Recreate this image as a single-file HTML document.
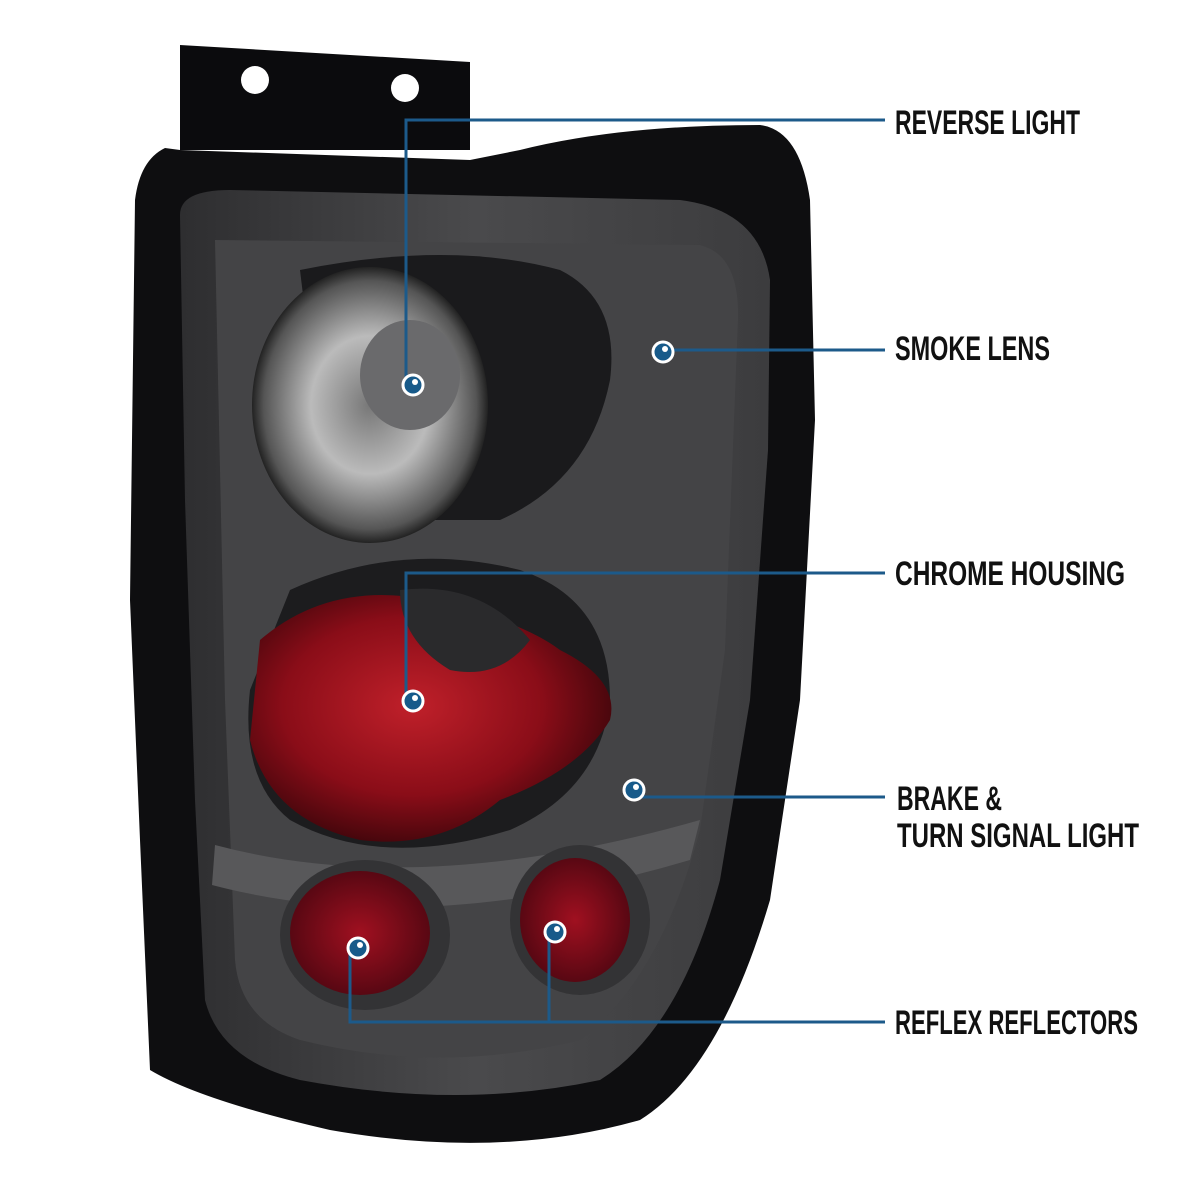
<!DOCTYPE html>
<html><head><meta charset="utf-8"><style>
html,body{margin:0;padding:0;background:#fff;width:1200px;height:1200px;overflow:hidden}
text{font-family:"Liberation Sans Narrow","Liberation Sans",sans-serif;font-size:34px;font-weight:bold;fill:#111}
</style></head><body>
<svg width="1200" height="1200" viewBox="0 0 1200 1200" xmlns="http://www.w3.org/2000/svg">
<defs>
<radialGradient id="rev" cx="0.5" cy="0.5" r="0.5"><stop offset="0" stop-color="#777"/><stop offset="0.5" stop-color="#bbb"/><stop offset="0.9" stop-color="#555"/><stop offset="1" stop-color="#222"/></radialGradient>
<radialGradient id="red" cx="0.45" cy="0.45" r="0.6"><stop offset="0" stop-color="#c0202a"/><stop offset="0.6" stop-color="#8a0d18"/><stop offset="1" stop-color="#3a050a"/></radialGradient>
<radialGradient id="red2" cx="0.5" cy="0.5" r="0.6"><stop offset="0" stop-color="#a01020"/><stop offset="1" stop-color="#4a0610"/></radialGradient>
<linearGradient id="body" x1="0" y1="0" x2="1" y2="0"><stop offset="0" stop-color="#2e2e30"/><stop offset="0.5" stop-color="#4a4a4c"/><stop offset="1" stop-color="#3c3c3e"/></linearGradient>
</defs>
<path d="M180 45 L470 62 L470 150 L180 150 Z" fill="#0b0b0d"/>
<circle cx="255" cy="80" r="14" fill="#fff"/><circle cx="405" cy="88" r="14" fill="#fff"/>
<path d="M165 148 Q140 160 135 200 L130 600 L140 840 L150 1070 Q200 1100 330 1130 Q500 1160 640 1120 Q720 1070 770 900 L800 700 L815 420 L810 200 Q800 130 760 125 Q620 125 520 150 L470 160 L180 150 Z" fill="#0e0e10"/>
<path d="M180 215 Q180 190 230 190 L680 200 Q760 210 770 280 L768 450 L750 700 L720 880 Q680 1030 600 1080 Q460 1110 300 1080 Q220 1060 205 1000 L195 800 L185 500 Z" fill="url(#body)"/>
<path d="M215 240 L700 245 Q740 255 738 320 L725 650 L700 830 Q660 980 580 1040 Q440 1075 300 1040 Q240 1020 235 960 L225 700 Z" fill="#444446"/>
<path d="M300 270 Q450 240 560 270 Q620 300 610 380 Q590 480 500 520 L330 520 Z" fill="#1a1a1c"/>
<ellipse cx="370" cy="405" rx="118" ry="138" fill="url(#rev)"/>
<ellipse cx="410" cy="375" rx="50" ry="55" fill="#6a6a6c"/>
<path d="M290 590 Q400 540 520 570 Q610 600 610 700 Q600 790 510 830 Q380 870 290 820 Q240 780 250 690 Z" fill="#1c1c1e"/>
<path d="M260 640 Q330 580 430 600 Q520 620 560 650 Q620 680 610 720 Q580 770 500 800 Q440 850 360 840 Q270 820 250 740 Z" fill="url(#red)"/>
<path d="M400 590 Q480 580 530 640 Q500 680 450 670 Q400 640 400 590 Z" fill="#2a2a2c"/>
<path d="M215 845 Q420 900 700 820 L690 860 Q420 940 212 885 Z" fill="#58585a"/>
<ellipse cx="365" cy="935" rx="85" ry="75" fill="#333335"/>
<ellipse cx="360" cy="933" rx="70" ry="62" fill="url(#red2)"/>
<ellipse cx="580" cy="920" rx="70" ry="75" fill="#333335"/>
<ellipse cx="575" cy="920" rx="55" ry="62" fill="url(#red2)"/>
<g stroke="#1c5a8a" stroke-width="3" fill="none">
<path d="M885 120 L406 120 L406 385"/>
<path d="M885 350 L663 350"/>
<path d="M885 573 L406 573 L406 700"/>
<path d="M885 797 L634 797"/>
<path d="M885 1022 L350 1022 L350 948 M549 1022 L549 932"/>
</g>
<g fill="#175a8a" stroke="#fff" stroke-width="3">
<circle cx="413" cy="385" r="10"/><circle cx="663" cy="352" r="10"/>
<circle cx="413" cy="701" r="10"/><circle cx="634" cy="790" r="10"/>
<circle cx="358" cy="948" r="10"/><circle cx="555" cy="932" r="10"/>
</g>
<g fill="#fff"><circle cx="415" cy="382" r="3"/><circle cx="665" cy="349" r="3"/><circle cx="415" cy="698" r="3"/><circle cx="636" cy="787" r="3"/><circle cx="360" cy="945" r="3"/><circle cx="557" cy="929" r="3"/></g>
<text x="895" y="134" textLength="185" lengthAdjust="spacingAndGlyphs">REVERSE LIGHT</text>
<text x="895" y="360" textLength="155" lengthAdjust="spacingAndGlyphs">SMOKE LENS</text>
<text x="895" y="585" textLength="230" lengthAdjust="spacingAndGlyphs">CHROME HOUSING</text>
<text x="897" y="810" textLength="105" lengthAdjust="spacingAndGlyphs">BRAKE &amp;</text>
<text x="897" y="847" textLength="242" lengthAdjust="spacingAndGlyphs">TURN SIGNAL LIGHT</text>
<text x="895" y="1034" textLength="243" lengthAdjust="spacingAndGlyphs">REFLEX REFLECTORS</text>
</svg>
</body></html>
